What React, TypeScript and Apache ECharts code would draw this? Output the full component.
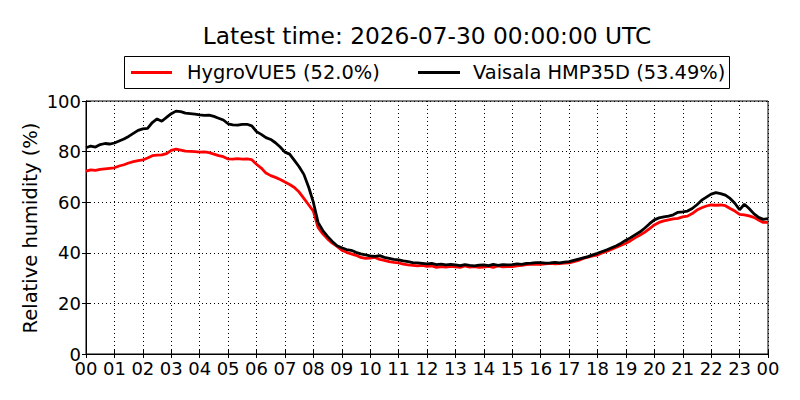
import React, { useEffect, useRef } from "react";
import * as echarts from "echarts";

const TITLE = "Latest time: 2026-07-30 00:00:00 UTC";
const Y_NAME = "Relative humidity (%)";
const NAME_HYGRO = "HygroVUE5 (52.0%)";
const NAME_VAISALA = "Vaisala HMP35D (53.49%)";
const STEP_MIN = 10;
const HOUR_TICKS = ["00","01","02","03","04","05","06","07","08","09","10","11","12","13","14","15","16","17","18","19","20","21","22","23","00"];

// Vaisala HMP35D relative humidity, every 10 minutes from 00:00 to 24:00
const vaisala = [
  81.5, 82.2, 81.8, 82.8, 83.2, 83.0,
  83.4, 84.2, 85.0, 86.0, 87.2, 88.4,
  89.0, 89.2, 91.5, 92.9, 92.0, 93.5,
  95.0, 96.0, 95.8, 95.2, 95.0, 94.8,
  94.5, 94.3, 94.4, 93.9, 93.2, 92.5,
  91.0, 90.6, 90.5, 90.8, 90.8, 90.2,
  87.9, 86.8, 85.5, 84.8, 83.5, 81.8,
  79.8, 79.0, 76.5, 74.0, 71.0, 66.0,
  60.0, 52.0, 48.8, 46.5, 44.5, 42.8,
  42.0, 41.3, 41.0, 40.2, 39.6, 39.2,
  38.8, 38.6, 38.9, 38.2, 37.8, 37.4,
  37.2, 36.8, 36.5, 36.1, 36.0, 35.8,
  35.6, 35.8, 35.3, 35.5, 35.2, 35.4,
  35.2, 34.9, 35.3, 35.0, 34.8, 35.1,
  35.2, 34.9, 35.4, 35.0, 35.3, 35.2,
  35.3, 35.6, 35.4, 35.8, 35.9, 36.1,
  36.1, 35.9, 36.0, 36.2, 36.0, 36.3,
  36.5, 37.0, 37.5, 38.0, 38.5, 39.2,
  39.8, 40.5, 41.2, 42.0, 42.8, 43.8,
  45.0, 46.0, 47.2, 48.3, 49.8, 51.5,
  53.0, 53.8, 54.2, 54.5, 55.0, 56.0,
  56.2, 56.5, 57.5, 59.0, 60.8, 62.0,
  63.2, 63.8, 63.4, 62.8, 61.5, 59.6,
  57.0, 59.2, 57.5, 55.5, 54.0, 53.2,
  53.5,
];

// HygroVUE5 relative humidity, every 10 minutes from 00:00 to 24:00
const hygro = [
  72.3, 72.8, 72.6, 73.0, 73.2, 73.4,
  73.6, 74.3, 74.8, 75.5, 76.0, 76.4,
  76.7, 77.5, 78.4, 78.6, 78.7, 79.2,
  80.5, 81.0, 80.6, 80.2, 80.1, 80.0,
  79.8, 79.9, 79.6, 79.0, 78.4, 78.0,
  77.1, 77.0, 77.2, 77.0, 77.1, 76.8,
  75.0, 73.5, 71.5, 70.5, 69.8, 69.0,
  68.0, 67.0, 65.8, 64.0, 61.5, 59.0,
  56.5, 50.0, 47.5, 45.5, 43.8, 42.5,
  41.0, 40.2, 39.6, 39.0, 38.2, 37.8,
  37.9, 38.2, 37.4, 37.0, 36.5, 36.2,
  36.0, 35.5, 35.2, 35.0, 34.8, 35.0,
  34.6, 34.8, 34.2, 34.5, 34.3, 34.6,
  34.4, 34.2, 34.8, 34.3, 34.5, 34.2,
  34.3, 34.6, 34.2, 34.8, 34.4, 34.5,
  34.5, 34.8, 35.0, 35.3, 35.4, 35.5,
  35.4, 35.6, 35.8, 35.6, 35.7, 35.9,
  36.0, 36.5, 37.0, 37.8, 38.3, 38.8,
  39.1, 40.0, 40.6, 41.4, 42.2, 43.0,
  43.8, 44.8, 46.0, 47.0, 48.2, 49.6,
  51.0, 52.0, 52.6, 53.0, 53.4, 53.6,
  54.2, 54.5, 55.5, 56.9, 57.8, 58.5,
  58.9, 58.8, 58.9, 58.6, 57.5, 56.5,
  55.2, 55.0, 54.6, 54.0, 53.0, 52.0,
  52.0,
];

const FONT = "DejaVu Sans";

export default function App() {
  const ref = useRef<HTMLDivElement>(null);
  useEffect(() => {
    if (!ref.current) return;
    const chart = echarts.init(ref.current, null, { renderer: "svg" });
    const toPairs = (arr: number[]) => arr.map((v, i) => [i * STEP_MIN, v]);
    const xFmt = (v: number) => HOUR_TICKS[Math.round(v / 60)] ?? "";
    const gridLine = { show: true, lineStyle: { color: "#000", width: 1, type: [1, 3] as any } };
    const axisLine = { show: true, lineStyle: { color: "#000", width: 1 } };
    const tick = { show: true, inside: true, length: 4, lineStyle: { color: "#000", width: 1 } };
    chart.setOption({
      animation: false,
      backgroundColor: "#fff",
      grid: { left: 86, right: 32, top: 101, bottom: 46, show: true, borderColor: "#000", borderWidth: 1, backgroundColor: "transparent" },
      xAxis: [
        {
          type: "value", min: 0, max: 1440, interval: 60, position: "bottom",
          axisLine, axisTick: tick, splitLine: gridLine,
          axisLabel: { color: "#000", fontFamily: FONT, fontSize: 18, margin: 5, formatter: xFmt },
        },
        {
          type: "value", min: 0, max: 1440, interval: 60, position: "top",
          axisLine, axisTick: tick, splitLine: { show: false }, axisLabel: { show: false },
        },
      ],
      yAxis: [
        {
          type: "value", min: 0, max: 100, interval: 20, position: "left",
          axisLine, axisTick: tick, splitLine: gridLine,
          axisLabel: { color: "#000", fontFamily: FONT, fontSize: 18, margin: 5 },
        },
        {
          type: "value", min: 0, max: 100, interval: 20, position: "right",
          axisLine, axisTick: tick, splitLine: { show: false }, axisLabel: { show: false },
        },
      ],
      series: [
        {
          name: NAME_HYGRO, type: "line", data: toPairs(hygro), showSymbol: false,
          lineStyle: { color: "#ff0000", width: 2.8 }, itemStyle: { color: "#ff0000" }, z: 3,
        },
        {
          name: NAME_VAISALA, type: "line", data: toPairs(vaisala), showSymbol: false,
          lineStyle: { color: "#000", width: 2.8 }, itemStyle: { color: "#000" }, z: 4,
        },
      ],
      graphic: [
        {
          type: "text", x: 427, y: 35,
          style: { text: TITLE, fill: "#000", font: `23.3px '${FONT}'`, textAlign: "center", textVerticalAlign: "middle" },
        },
        {
          type: "text", x: 30, y: 228, rotation: Math.PI / 2,
          style: { text: Y_NAME, fill: "#000", font: `19.5px '${FONT}'`, textAlign: "center", textVerticalAlign: "middle" },
        },
        {
          type: "group", z: 100,
          children: [
            { type: "rect", shape: { x: 124.5, y: 56.5, width: 605, height: 32 }, style: { fill: "#fff", stroke: "#000", lineWidth: 1 } },
            { type: "line", shape: { x1: 131, y1: 72.5, x2: 172, y2: 72.5 }, style: { stroke: "#ff0000", lineWidth: 2.8 } },
            { type: "text", x: 187, y: 72.5, style: { text: NAME_HYGRO, fill: "#000", font: `19.4px '${FONT}'`, textVerticalAlign: "middle" } },
            { type: "line", shape: { x1: 418, y1: 72.5, x2: 460, y2: 72.5 }, style: { stroke: "#000", lineWidth: 2.8 } },
            { type: "text", x: 473, y: 72.5, style: { text: NAME_VAISALA, fill: "#000", font: `19.4px '${FONT}'`, textVerticalAlign: "middle" } },
          ],
        },
      ],
    });
    return () => chart.dispose();
  }, []);
  return <div ref={ref} style={{ position: "fixed", left: 0, top: 0, width: 800, height: 400, background: "#fff" }} />;
}
